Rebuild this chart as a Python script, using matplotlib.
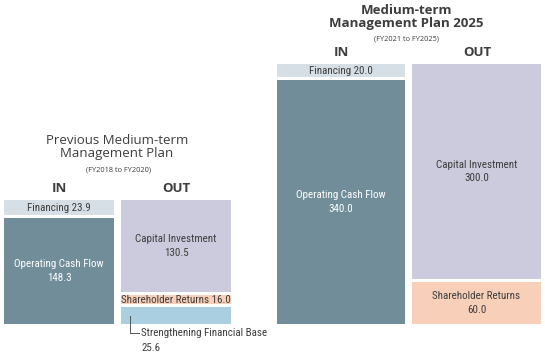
import matplotlib
matplotlib.use('Agg')
import matplotlib.pyplot as plt

# --[data]----------------------------------------------------------------------
prev_in_labels = ['Operating Cash Flow', 'Financing']
prev_in_values = [148.3, 23.9]
prev_out_labels = ['Strengthening Financial Base', 'Shareholder Returns', 'Capital Investment']
prev_out_values = [25.6, 16.0, 130.5]

new_in_labels = ['Operating Cash Flow', 'Financing']
new_in_values = [340.0, 20.0]
new_out_labels = ['Shareholder Returns', 'Capital Investment']
new_out_values = [60.0, 300.0]

colors = {
    'Operating Cash Flow': '#718d9a',
    'Financing': '#d6dfe6',
    'Capital Investment': '#cbcbdd',
    'Shareholder Returns': '#f8d0b9',
    'Strengthening Financial Base': '#aacfe1',
}

# --[layout: x in pixels, y in value units]-------------------------------------
W, H = 545, 355
PX = 0.722          # pixels per unit
BASE = 324          # pixel row of the zero line
GAP = 3.0 / PX      # white gap between stacked blocks

COND = ['Roboto Condensed', 'DejaVu Sans']
HEAD = ['Open Sans', 'DejaVu Sans']
plt.rcParams['font.family'] = COND
TXT = '#3d3d3d'
FS = 7.9

fig = plt.figure(figsize=(W / 100, H / 100), dpi=100)
ax = fig.add_axes([0, 0, 1, 1])
ax.set_xlim(0, W)
ax.set_ylim(-(H - BASE) / PX, BASE / PX)
ax.axis('off')


def stack(x0, width, labels, values, inline=None):
    bottom = 0.0
    for i, (lab, val) in enumerate(zip(labels, values)):
        lo = bottom + (GAP / 2 if i > 0 else 0)
        hi = bottom + val - (GAP / 2 if i < len(values) - 1 else 0)
        ax.bar(x0, hi - lo, width=width, bottom=lo, align='edge',
               color=colors[lab], linewidth=0)
        tc = 'white' if lab == 'Operating Cash Flow' else TXT
        mid = (lo + hi) / 2
        if inline and lab in inline:
            ax.text(x0 + width / 2, mid, '{} {:.1f}'.format(lab, val),
                    ha='center', va='center', color=tc, fontsize=FS)
        elif lab != 'Strengthening Financial Base':
            ax.text(x0 + width / 2, mid, '{}\n{:.1f}'.format(lab, val),
                    ha='center', va='center', color=tc, fontsize=FS,
                    linespacing=1.45)
        bottom += val
    return bottom


# previous plan
stack(4, 110, prev_in_labels, prev_in_values, inline=['Financing'])
stack(121, 110, prev_out_labels, prev_out_values,
      inline=['Shareholder Returns'])

# leader for Strengthening Financial Base
lx = 130
y_top = prev_out_values[0] * 0.45
y_low = -(333 - BASE) / PX
ax.plot([lx, lx, lx + 9], [y_top, y_low, y_low], color='#555555', lw=0.7)
ax.text(lx + 11, y_low, prev_out_labels[0], ha='left', va='center',
        color=TXT, fontsize=FS)
ax.text(lx + 11, -(348 - BASE) / PX, '{:.1f}'.format(prev_out_values[0]),
        ha='left', va='center', color=TXT, fontsize=FS)

# new plan
stack(277, 128, new_in_labels, new_in_values, inline=['Financing'])
stack(412, 129, new_out_labels, new_out_values)

# --[titles]--------------------------------------------------------------------
def ftext(x, y, s, **kw):
    fig.text(x / W, 1 - y / H, s, ha='center', va='center', color=TXT, **kw)


ftext(117, 147, 'Previous Medium-term\nManagement Plan', fontsize=9.5,
      family=HEAD, linespacing=1.0)
ftext(118, 170, '(FY2018 to FY2020)', fontsize=5.3, family=HEAD)
ftext(59, 188, 'IN', fontsize=9.5, fontweight='bold', family=HEAD)
ftext(176, 188, 'OUT', fontsize=9.5, fontweight='bold', family=HEAD)

ftext(406, 17, 'Medium-term\nManagement Plan 2025', fontsize=9.5,
      fontweight='bold', family=HEAD, linespacing=1.08)
ftext(406, 39, '(FY2021 to FY2025)', fontsize=5.3, family=HEAD)
ftext(341, 52, 'IN', fontsize=9.5, fontweight='bold', family=HEAD)
ftext(477, 52, 'OUT', fontsize=9.5, fontweight='bold', family=HEAD)

fig.savefig('out.png', dpi=100)
